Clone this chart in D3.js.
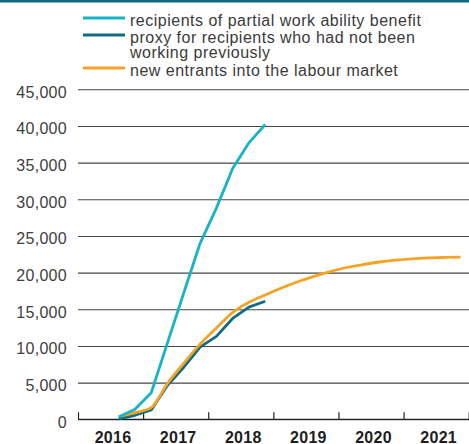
<!DOCTYPE html>
<html>
<head>
<meta charset="utf-8">
<script src="https://cdn.jsdelivr.net/npm/d3@7"></script>
<style>
  html, body { margin: 0; padding: 0; background: #fff; }
  svg { display: block; }
</style>
</head>
<body>
<svg id="chart" width="469" height="444"></svg>
<script>
// ---- data ----
const years = [2016, 2017, 2018, 2019, 2020, 2021];
const yTicks = [0, 5000, 10000, 15000, 20000, 25000, 30000, 35000, 40000, 45000];

const quartersShort = ["2016Q3","2016Q4","2017Q1","2017Q2","2017Q3","2017Q4","2018Q1","2018Q2","2018Q3","2018Q4"];
const quartersLong = ["2016Q3","2016Q4","2017Q1","2017Q2","2017Q3","2017Q4","2018Q1","2018Q2","2018Q3","2018Q4",
  "2019Q1","2019Q2","2019Q3","2019Q4","2020Q1","2020Q2","2020Q3","2020Q4","2021Q1","2021Q2","2021Q3","2021Q4"];

const recipients = [300, 1360, 3620, 10450, 17250, 24000, 28800, 34200, 37700, 40200];
const proxyNotWorking = [60, 550, 1270, 4650, 7100, 9850, 11300, 13750, 15300, 16100];
const newEntrants = [380, 900, 1600, 4900, 7650, 10250, 12450, 14550, 15950, 16950,
  17900, 18750, 19500, 20150, 20700, 21100, 21450, 21700, 21880, 22000, 22070, 22120];

const seriesNames = ["recipients of partial work ability benefit",
  "proxy for recipients who had not been working previously",
  "new entrants into the labour market"];
const colors = ["#17b4c8", "#0f6c82", "#f4a324"];

(function () {
// ---- layout ----
const svg = d3.select("#chart");
const W = 469, H = 444;
const mLeft = 78, mRight = 468.7, mTop = 89.3, mBottom = 419.3;
const font = "'Liberation Sans', Arial, Helvetica, sans-serif";

const qToYear = q => +q.slice(0, 4) + (+q.slice(5) - 0.5) / 4;

const x = d3.scaleLinear().domain([2016, 2022]).range([mLeft, mRight]);
const y = d3.scaleLinear().domain([0, 45000]).range([mBottom, mTop]);

// top band
svg.append("rect").attr("x", 0).attr("y", 0).attr("width", W).attr("height", 2.5).attr("fill", "#0d6a7f");

// gridlines + y labels
const yAxis = d3.axisLeft(y).tickValues(yTicks).tickSize(-(W - mLeft)).tickFormat(d3.format(","));
const gy = svg.append("g").attr("transform", `translate(${mLeft},0)`).call(yAxis);
gy.select(".domain").remove();
gy.selectAll(".tick line").attr("stroke", "#444").attr("stroke-width", 1.1);
gy.selectAll(".tick text")
  .attr("x", -11).attr("dy", "0.5em")
  .attr("fill", "#404040")
  .style("font-family", font).style("font-size", "16px").style("letter-spacing", "0.3px");

// x axis: ticks at year boundaries, labels centered
const xAxis = d3.axisBottom(x).tickValues(d3.range(2016, 2023)).tickSize(-7).tickFormat("");
const gx = svg.append("g").attr("transform", `translate(0,${mBottom})`).call(xAxis);
gx.select(".domain").remove();
gx.selectAll(".tick line").attr("stroke", "#222").attr("stroke-width", 1.2);
svg.append("line").attr("x1", mLeft).attr("x2", W).attr("y1", mBottom).attr("y2", mBottom)
  .attr("stroke", "#222").attr("stroke-width", 1.3);

svg.append("g").selectAll("text").data(years).join("text")
  .attr("x", d => x(d + 0.5) + 2.5).attr("y", 442.5)
  .attr("text-anchor", "middle")
  .attr("fill", "#1e1e1e")
  .style("font-family", font).style("font-size", "16px").style("font-weight", "bold")
  .style("letter-spacing", "0.3px")
  .text(d => d);

// lines
const lineLin = d3.line().x(d => x(d[0])).y(d => y(d[1]));
const lineSmooth = d3.line().x(d => x(d[0])).y(d => y(d[1])).curve(d3.curveMonotoneX);

const teal = quartersShort.map((q, i) => [qToYear(q), proxyNotWorking[i]]);
const orange = quartersLong.map((q, i) => [qToYear(q), newEntrants[i]]);
const cyan = quartersShort.map((q, i) => [qToYear(q), recipients[i]]);

svg.append("path").datum(teal).attr("d", lineLin).attr("fill", "none")
  .attr("stroke", colors[1]).attr("stroke-width", 2.8).attr("stroke-linejoin", "round");
svg.append("path").datum(orange).attr("d", lineSmooth).attr("fill", "none")
  .attr("stroke", colors[2]).attr("stroke-width", 2.8).attr("stroke-linejoin", "round");
svg.append("path").datum(cyan).attr("d", lineLin).attr("fill", "none")
  .attr("stroke", colors[0]).attr("stroke-width", 2.8).attr("stroke-linejoin", "round");

// legend
const legend = [
  { color: colors[0], lines: ["recipients of partial work ability benefit"], ly: 18 },
  { color: colors[1], lines: ["proxy for recipients who had not been", "working previously"], ly: 35 },
  { color: colors[2], lines: ["new entrants into the labour market"], ly: 68 }
];
legend.forEach(item => {
  svg.append("line").attr("x1", 83).attr("x2", 125).attr("y1", item.ly).attr("y2", item.ly)
    .attr("stroke", item.color).attr("stroke-width", 2.8);
  const t = svg.append("text").attr("x", 130).attr("y", item.ly + 7.5)
    .attr("fill", "#3a3a3a")
    .style("font-family", font).style("font-size", "16px").style("letter-spacing", "0.5px");
  item.lines.forEach((l, i) => {
    t.append("tspan").attr("x", 130).attr("dy", i === 0 ? 0 : 15.5).text(l);
  });
});
})();
</script>
</body>
</html>
